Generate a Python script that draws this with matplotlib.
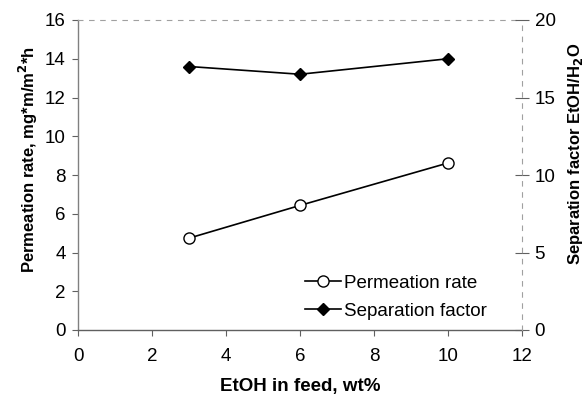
import matplotlib.pyplot as plt
import numpy as np

plt.rcParams['font.family'] = ['Liberation Sans', 'DejaVu Sans']

# data
etoh_feed = [3, 6, 10]
permeation_rate = [4.74, 6.43, 8.62]
separation_factor = [17.0, 16.5, 17.5]

fig = plt.figure(figsize=(5.85, 3.95), dpi=100)
ax = fig.add_axes([78 / 585, 65 / 395, 444 / 585, 310 / 395])
ax2 = ax.twinx()

l1, = ax.plot(etoh_feed, permeation_rate, 'k-', marker='o', mfc='white', mec='black',
              ms=8, lw=1.2, label='Permeation rate')
l2, = ax2.plot(etoh_feed, separation_factor, 'k-', marker='D', mfc='black', mec='black',
               ms=6.5, lw=1.2, label='Separation factor')

ax.set_xlim(0, 12)
ax.set_ylim(0, 16)
ax2.set_ylim(0, 20)
ax.set_xticks(np.arange(0, 13, 2))
ax.set_yticks(np.arange(0, 17, 2))
ax2.set_yticks(np.arange(0, 21, 5))

for a in (ax, ax2):
    for s in a.spines.values():
        s.set_visible(False)
ax.spines['left'].set_visible(True)
ax.spines['bottom'].set_visible(True)
ax.spines['left'].set_color('#808080')
ax.spines['bottom'].set_color('#606060')
ax.spines['left'].set_linewidth(1.0)
ax.spines['bottom'].set_linewidth(1.0)
ax.spines['top'].set_visible(True)
ax.spines['top'].set_color('#a0a0a0')
ax.spines['top'].set_linestyle((0, (4, 6)))
ax.spines['top'].set_linewidth(0.8)
ax2.spines['right'].set_visible(True)
ax2.spines['right'].set_color('#a0a0a0')
ax2.spines['right'].set_linestyle((0, (4, 6)))
ax2.spines['right'].set_linewidth(0.8)

ax.tick_params(axis='both', direction='out', length=4, color='#606060', labelsize=13.5)
ax.tick_params(axis='x', pad=9)
ax.tick_params(axis='y', pad=5)
ax2.tick_params(axis='y', direction='inout', length=10, color='#606060', labelsize=13.5, pad=4)

ax.set_xlabel('EtOH in feed, wt%', fontsize=13.5, fontweight='bold', labelpad=9)
ax.set_ylabel('Permeation rate, mg*m/m$^\\mathbf{2}$*h', fontsize=12, fontweight='bold')
ax2.set_ylabel('Separation factor EtOH/H$_\\mathbf{2}$O', fontsize=12, fontweight='bold')
ax.yaxis.set_label_coords(-0.086, 0.55)
ax2.yaxis.set_label_coords(1.098, 0.568)

ax.legend([l1, l2], ['Permeation rate', 'Separation factor'], loc='lower right',
          bbox_to_anchor=(0.96, -0.022), frameon=False, fontsize=13.5, handlelength=1.9,
          handletextpad=0.2, labelspacing=0.6)

fig.savefig('out.png', dpi=100)
